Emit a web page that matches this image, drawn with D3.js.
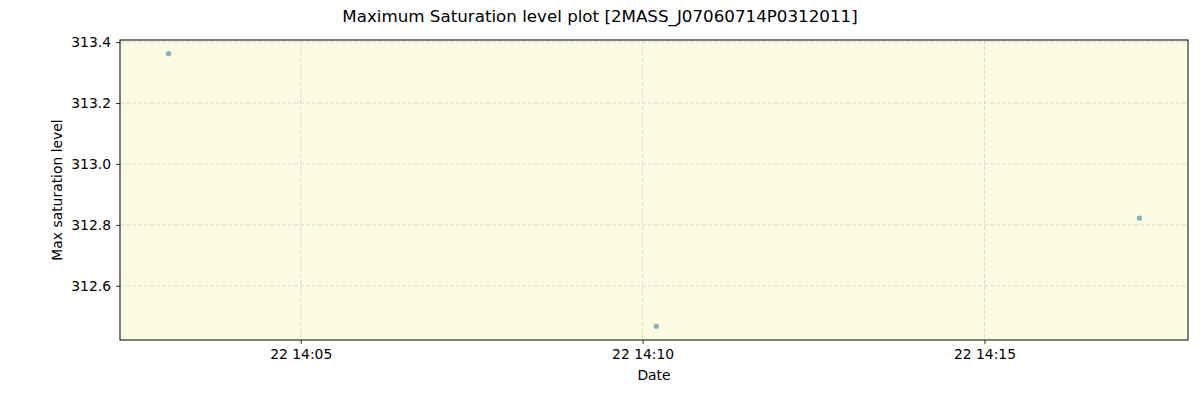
<!DOCTYPE html>
<html>
<head>
<meta charset="utf-8">
<script src="https://cdn.jsdelivr.net/npm/d3@7"></script>
<style>
  body { margin: 0; background: #ffffff; }
  svg text { font-family: "DejaVu Sans", sans-serif; fill: #000; }
</style>
</head>
<body>
<div id="chart"></div>
<script>
// data
let times = ["2020-01-22T14:03:04", "2020-01-22T14:10:12", "2020-01-22T14:17:16"];
let saturation = [313.362, 312.467, 312.822];
let yTicks = [312.6, 312.8, 313.0, 313.2, 313.4];

let width = 1200,
    height = 400,
    margin = {top: 40, right: 12, bottom: 60, left: 120};

let parse = d3.timeParse("%Y-%m-%dT%H:%M:%S");
let data = times.map(function (t, i) { return {date: parse(t), value: saturation[i]}; });

let svg = d3.select("#chart")
    .append("svg")
    .attr("width", width)
    .attr("height", height);

let innerW = width - margin.left - margin.right,
    innerH = height - margin.top - margin.bottom;

// matplotlib-like 5% padding around the data
let xExt = d3.extent(data, d => d.date),
    xPad = (xExt[1] - xExt[0]) * 0.05;
let x = d3.scaleTime()
    .domain([new Date(+xExt[0] - xPad), new Date(+xExt[1] + xPad)])
    .range([margin.left, margin.left + innerW]);

let yExt = d3.extent(data, d => d.value),
    yPad = (yExt[1] - yExt[0]) * 0.05;
let y = d3.scaleLinear()
    .domain([yExt[0] - yPad, yExt[1] + yPad])
    .range([margin.top + innerH, margin.top]);

// background
svg.append("rect")
    .attr("x", margin.left)
    .attr("y", margin.top)
    .attr("width", innerW)
    .attr("height", innerH)
    .attr("fill", "#fdfce3");

let xTicks = x.ticks(d3.timeMinute.every(5));

// grid
svg.append("g")
    .selectAll("line")
    .data(xTicks)
    .enter()
    .append("line")
    .attr("x1", d => x(d)).attr("x2", d => x(d))
    .attr("y1", margin.top).attr("y2", margin.top + innerH)
    .attr("stroke", "#d0d0d0")
    .attr("stroke-width", 0.8)
    .attr("stroke-dasharray", "4,2");

svg.append("g")
    .selectAll("line")
    .data(yTicks)
    .enter()
    .append("line")
    .attr("x1", margin.left).attr("x2", margin.left + innerW)
    .attr("y1", d => y(d)).attr("y2", d => y(d))
    .attr("stroke", "#d0d0d0")
    .attr("stroke-width", 0.8)
    .attr("stroke-dasharray", "4,2");

// points
svg.append("g")
    .selectAll("circle")
    .data(data)
    .enter()
    .append("circle")
    .attr("cx", d => x(d.date))
    .attr("cy", d => y(d.value))
    .attr("r", 2.6)
    .attr("fill", "#1f77b4")
    .attr("fill-opacity", 0.55);

// axes
let xAxis = svg.append("g")
    .attr("transform", "translate(0," + (margin.top + innerH) + ")")
    .call(d3.axisBottom(x).tickValues(xTicks).tickFormat(d3.timeFormat("%d %H:%M")).tickSizeOuter(0).tickSize(4).tickPadding(5));

let yAxis = svg.append("g")
    .attr("transform", "translate(" + margin.left + ",0)")
    .call(d3.axisLeft(y).tickValues(yTicks).tickFormat(d3.format(".1f")).tickSizeOuter(0).tickSize(4).tickPadding(5));

[xAxis, yAxis].forEach(function (a) {
    a.select(".domain").remove();
    a.selectAll("text").style("font-size", "13.9px");
    a.selectAll("line").attr("stroke", "#000").attr("stroke-width", 0.8);
});

// frame
svg.append("rect")
    .attr("x", margin.left)
    .attr("y", margin.top)
    .attr("width", innerW)
    .attr("height", innerH)
    .attr("fill", "none")
    .attr("stroke", "#000")
    .attr("stroke-width", 1);

// labels
svg.append("text")
    .attr("x", width / 2)
    .attr("y", 22)
    .attr("text-anchor", "middle")
    .style("font-size", "16.7px")
    .text("Maximum Saturation level plot [2MASS_J07060714P0312011]");

svg.append("text")
    .attr("x", margin.left + innerW / 2)
    .attr("y", 380)
    .attr("text-anchor", "middle")
    .style("font-size", "13.9px")
    .text("Date");

svg.append("text")
    .attr("transform", "translate(62," + (margin.top + innerH / 2) + ") rotate(-90)")
    .attr("text-anchor", "middle")
    .style("font-size", "13.9px")
    .text("Max saturation level");
</script>
</body>
</html>
